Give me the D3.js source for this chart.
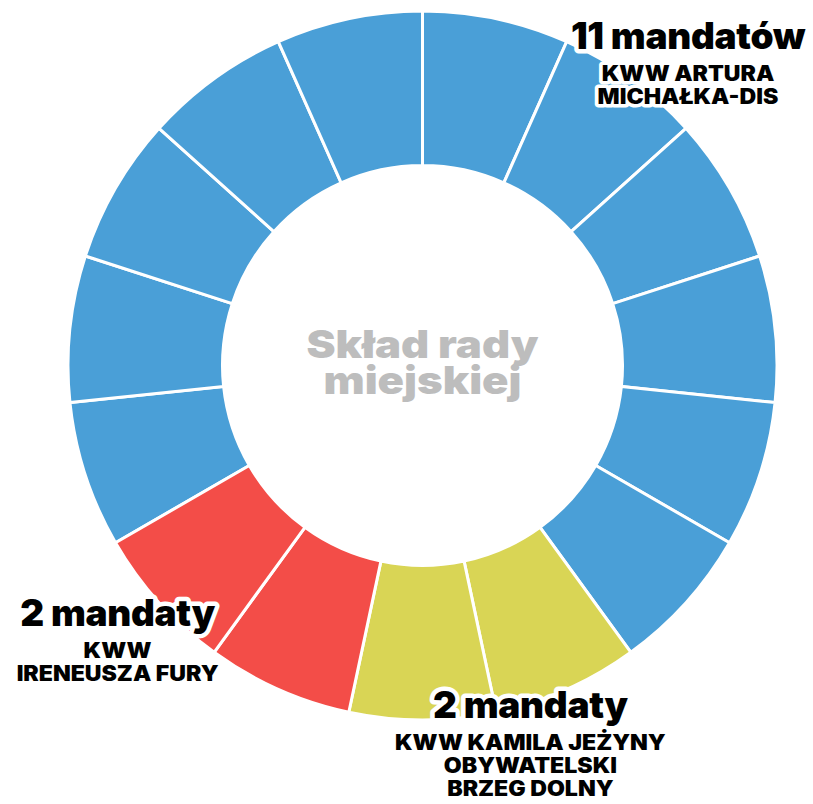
<!DOCTYPE html>
<html>
<head>
<meta charset="utf-8">
<script src="https://cdn.jsdelivr.net/npm/d3@7"></script>
<style>
  body { margin: 0; background: #fff; }
  svg { display: block; font-family: Inter, "Noto Sans", sans-serif; }
  .halo { paint-order: stroke; stroke: #fff; stroke-linejoin: round; }
</style>
</head>
<body>
<div id="chart"></div>
<script>
// parties in drawing order (clockwise)
const parties = ['KWW ARTURA MICHAŁKA-DIS', 'KWW KAMILA JEŻYNY OBYWATELSKI BRZEG DOLNY', 'KWW IRENEUSZA FURY'];
const seats = [11, 2, 2];
const colors = ['#4a9fd7', '#d9d555', '#f34d48'];
const seatLabels = ['11 mandatów', '2 mandaty', '2 mandaty'];
const nameLines = [['KWW ARTURA', 'MICHAŁKA-DIS'], ['KWW KAMILA JEŻYNY', 'OBYWATELSKI', 'BRZEG DOLNY'], ['KWW', 'IRENEUSZA FURY']];
const centerTitle = ['Skład rady', 'miejskiej'];

const width = 813, height = 804;
const cx = 422.5, cy = 365.5;
const outerR = 354.5, innerR = 200;

const svg = d3.select('#chart').append('svg')
    .attr('width', width)
    .attr('height', height);

const g = svg.append('g')
    .attr('transform', `translate(${cx},${cy})`);

// one slice per seat
const seatData = [];
parties.forEach((p, i) => {
  for (let k = 0; k < seats[i]; k++) seatData.push({party: i});
});

const start = -120 * Math.PI / 180;
const pie = d3.pie()
    .value(1)
    .sort(null)
    .startAngle(start)
    .endAngle(start + 2 * Math.PI);

const arc = d3.arc()
    .innerRadius(innerR)
    .outerRadius(outerR);

g.selectAll('path.seat')
    .data(pie(seatData))
  .join('path')
    .attr('class', 'seat')
    .attr('d', arc)
    .attr('fill', d => colors[d.data.party])
    .attr('stroke', '#fff')
    .attr('stroke-width', 3);

// centre title (font drawn a bit wider, like the original's display face)
g.append('g')
    .attr('transform', 'scale(1.15,1)')
  .append('text')
    .attr('text-anchor', 'middle')
    .attr('fill', '#bdbdbd')
    .attr('font-size', 38)
    .attr('font-weight', 900)
    .selectAll('tspan')
    .data(centerTitle)
  .join('tspan')
    .attr('x', 0)
    .attr('y', (d, i) => -8 + i * 36)
    .text(d => d);

// party labels: angle (deg) / radius from centre, placed by hand around the ring
const labelPos = [{a: 40, r: 413}, {a: 163, r: 369}, {a: 229.5, r: 401}];

seats.forEach((s, i) => {
  const a = labelPos[i].a * Math.PI / 180;
  const x = Math.sin(a) * labelPos[i].r;
  const y = -Math.cos(a) * labelPos[i].r;
  const lg = g.append('g')
      .attr('transform', `translate(${x},${y})`)
      .attr('text-anchor', 'middle');
  lg.append('text')
      .attr('class', 'halo')
      .attr('font-size', 37)
      .attr('font-weight', 900)
      .attr('stroke-width', 9)
      .attr('fill', '#000')
      .attr('letter-spacing', -0.3)
      .text(seatLabels[i]);
  lg.append('g')
      .attr('transform', 'scale(1.1,1)')
    .append('text')
      .attr('class', 'halo')
      .attr('font-size', 21)
      .attr('font-weight', 900)
      .attr('stroke-width', 7)
      .attr('fill', '#000')
      .selectAll('tspan')
      .data(nameLines[i])
    .join('tspan')
      .attr('x', 0)
      .attr('y', (d, j) => 32 + j * 23)
      .text(d => d);
});
</script>
</body>
</html>
